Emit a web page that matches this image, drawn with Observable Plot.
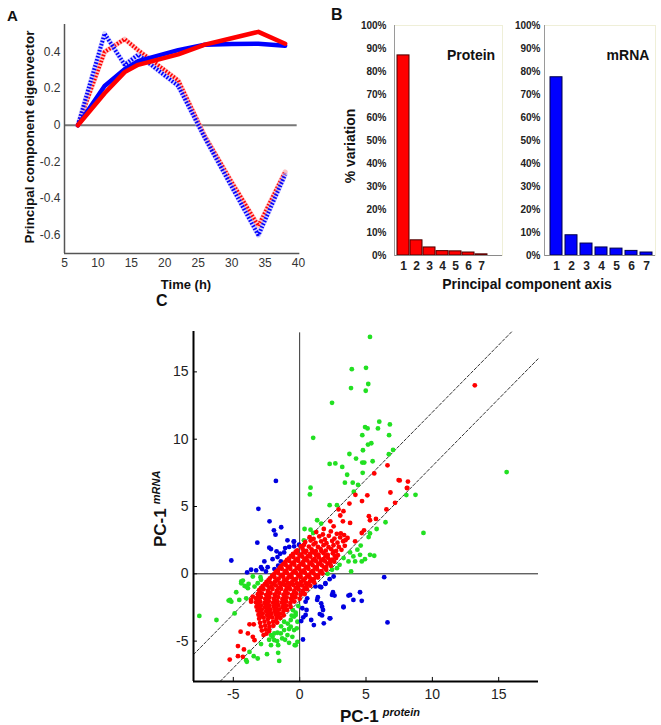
<!DOCTYPE html>
<html><head><meta charset="utf-8">
<script src="https://cdn.jsdelivr.net/npm/d3@7"></script>
<script src="https://cdn.jsdelivr.net/npm/@observablehq/plot@0.6"></script>
<style>
body{margin:0;background:#fff;}
#fig{position:relative;width:661px;height:725px;overflow:hidden;background:#fff;font-family:"Liberation Sans",Arial,sans-serif}
</style></head><body><div id="fig"></div>
<script>
// ---------- Panel A data ----------
const times = [7, 11, 14, 16, 22, 26, 30, 34, 38];
const proteinPC1 = [0, 0.175, 0.29, 0.33, 0.387, 0.44, 0.475, 0.51, 0.445];
const mrnaPC1 = [0, 0.214, 0.306, 0.35, 0.41, 0.44, 0.443, 0.445, 0.434];
const proteinPC2 = [0, 0.40, 0.47, 0.41, 0.245, -0.06, -0.31, -0.55, -0.255];
const mrnaPC2 = [0, 0.50, 0.33, 0.385, 0.215, -0.07, -0.335, -0.60, -0.27];
const timeTicks = [5, 10, 15, 20, 25, 30, 35, 40];
const eigTicks = [-0.6, -0.4, -0.2, 0, 0.2, 0.4];

// ---------- Panel B data ----------
const pcAxes = ["1", "2", "3", "4", "5", "6", "7"];
const proteinVar = [87, 6.6, 3.5, 1.9, 1.8, 1.3, 0.5];
const mrnaVar = [77.5, 8.8, 5.2, 3.5, 3.0, 2.0, 1.3];
const pctTicks = [0, 10, 20, 30, 40, 50, 60, 70, 80, 90, 100];

// ---------- Panel C data ----------
const pcTicks = [-5, 0, 5, 10, 15];
const upperBand = [[-8, -6], [16, 18]];
const lowerBand = [[-6, -8], [18, 16]];
const greenPts = [
[5.3,17.6],[3.93,15.2],[5.0,15.3],[3.87,13.8],[5.17,14.1],[4.98,13.6],[2.44,12.7],[6.0,11.3],[6.8,11.1],[4.93,10.9],[5.12,10.8],[5.9,10.8],[4.72,10.3],[6.74,10.3],[1.02,10.1],[5.4,9.7],[5.15,9.6],[4.77,9.18],[7.04,9.2],[6.72,8.88],[3.75,8.9],[4.25,8.56],[5.5,8.36],[4.72,8.26],[4.87,8.26],[2.26,8.16],[2.69,8.2],[3.21,7.94],[3.58,7.36],[4.75,7.5],[3.41,6.77],[4.0,6.77],[4.4,6.6],[0.82,6.4],[0.77,5.9],[4.08,6.1],[8.04,5.85],[8.73,5.87],[15.6,7.56],[9.33,3.04],
[2.26,5.1],[2.81,5.1],[1.32,3.98],[1.62,3.73],[0.37,3.33],[0.82,3.28],[1.02,3.03],[0.32,2.49],
[6.47,3.83],[5.8,3.33],[5.3,3.0],[5.2,2.73],[4.6,2.1],[4.35,1.79],[3.8,1.59],[4.05,1.29],[4.55,1.41],[4.92,1.09],[5.3,1.41],[5.62,1.34],[4.68,0.92],[4.18,0.92],[3.68,0.92],[3.31,1.17],[3.01,0.67],[2.81,0.42],[3.88,0.17],[2.44,0.3],[2.11,0.0],
[-7.56,-3.13],[-6.27,-3.43],[-5.35,-1.99],[-5.15,-2.07],[-4.78,-1.37],[-4.9,-2.94],[-4.4,-0.7],[-4.15,-0.9],[-4.03,-1.82],[-3.85,-0.75],[-3.4,-0.95],[-3.16,-0.7],[-4.4,-0.57],[-4.03,-0.95],[-3.53,-0.2],[-2.91,-0.45],[-2.95,-0.25],[-4.28,-0.5],[-3.9,-1.07],[-4.55,-1.94],[-5.25,-1.94],
[-3.78,-5.8],[-3.46,-6.12],[-3.16,-6.29],[-4.03,-6.42],[-3.98,-6.54],[-2.91,-5.22],[-2.46,-5.97],[-1.62,-5.87],[-1.54,-6.47],[-1.62,-5.3],[-2.16,-5.3],[-1.91,-4.93],[-2.04,-4.68],[-1.32,-4.8],[-0.92,-4.55],[-0.8,-5.13],[-0.3,-5.3],[-0.17,-5.05],[-0.55,-4.68],[-0.67,-3.93],[-0.42,-4.18],[-1.17,-4.18],[-1.42,-4.43],[-1.67,-4.38],[-1.91,-4.43],[-2.16,-4.55],[-0.67,-3.43],[-0.42,-3.18],[-0.3,-2.89],[-0.17,-3.56],[-1.17,-3.56],[-0.3,-3.06],[-0.22,-4.05],[-0.37,-5.3],
[-0.9,-3.7],[-1.4,-3.9],[-0.8,-4.1],[-1.1,-4.9],[-0.5,-2.7],[-0.1,-2.4],[-1.7,-5.0],[-2.3,-4.9],[-0.6,-3.1]
];
const bluePts = [
[-1.79,6.9],[-3.11,4.83],[-2.27,3.9],[-1.94,3.23],[-1.39,3.46],[-1.82,2.91],[-3.19,2.31],[-0.92,2.49],[-0.45,2.39],[-2.29,1.94],[-2.16,1.84],[-1.74,1.67],[-1.09,1.91],[-0.79,2.0],[-0.42,2.4],[-0.42,2.04],[-0.05,2.16],
[-1.47,1.49],[-1.17,1.59],[-1.67,1.24],[-2.04,1.09],[-1.42,0.92],[-2.66,0.92],[-1.62,0.6],[-2.91,0.49],[-2.41,0.49],[-3.66,0.3],[-3.28,0.25],[-2.83,0.35],[-3.96,0.1],[-5.15,0.99],[-2.54,0.17],[-1.9,0.35],
[6.62,-3.61],[6.37,-0.25],[2.56,-0.2],[2.26,-0.4],[1.94,-0.7],[1.19,-0.94],[1.62,-1.0],[1.94,-0.75],[1.52,-0.95],[2.51,-1.37],[2.63,-1.62],[3.68,-1.62],[4.55,-1.37],[4.05,-1.94],[4.68,-2.01],[3.31,-2.49],[1.62,-2.19],[1.69,-2.44],[1.76,-2.69],[1.37,-1.74],[1.32,-1.94],[0.57,-1.82],[0.45,-2.07],[0.2,-2.56],[0.52,-2.69],[0.45,-3.06],[0.27,-3.23],[0.12,-3.51],[0.87,-3.43],[1.07,-3.81],[1.52,-2.99],[1.69,-3.09],[2.26,-3.31],[1.82,-3.68],[0.25,-4.88],[3.8,-1.57],[2.44,-1.57],[2.31,-3.31],[3.3,-2.44]
];
const redPts = [
[13.2,14.0],[6.62,8.06],[5.62,7.46],[7.46,6.96],[8.16,6.85],[8.08,6.37],[6.84,6.04],[4.2,5.87],[5.1,5.83],[7.54,6.94],[8.11,6.39],[4.7,5.4],[3.75,5.22],[7.19,5.27],[6.54,4.78],[5.22,4.28],[5.3,3.98],[5.75,4.08],[4.68,3.03],[4.85,3.23],[3.8,3.78],[3.06,4.33],[2.93,4.78],[2.31,3.9],[3.26,3.9],[2.56,3.53],[1.82,3.33],[3.1,3.0],[3.61,2.66],[4.18,2.41],[3.3,4.65],
[-5.27,-6.37],[-4.65,-6.12],[-4.28,-6.17],[-4.65,-5.37],[-4.2,-5.62],[-4.45,-4.3],[-3.9,-4.43],[-3.53,-4.68],[-3.4,-4.93],[-3.78,-3.75],[-3.46,-3.75],[-3.66,-2.07],[-3.53,-1.69],[-3.28,-1.82],[-3.16,-2.39],[-3.66,-1.94],
[1.25,3.1],[1.75,2.92],[2.35,3.15],[2.8,2.97],[3.35,2.88],
[0.75,2.72],[1.05,2.6],[1.48,2.78],[1.9,2.55],[2.2,2.82],[2.62,2.62],[3.05,2.7],[3.45,2.5],
[0.42,2.36],[0.83,2.47],[1.2,2.3],[1.62,2.41],[2.02,2.27],[2.45,2.44],[2.85,2.31],[3.28,2.42],
[0.1,2.05],[0.33,2.15],[0.7,2.02],[1.05,2.18],[1.38,2.0],[1.8,2.13],[2.18,1.98],[2.55,2.12],[2.95,2.0],[3.4,2.08],
[-0.18,1.74],[0.22,1.86],[0.5,1.7],[0.9,1.82],[1.22,1.68],[1.58,1.85],[1.97,1.72],[2.38,1.83],[2.75,1.7],[3.15,1.78],
[-0.5,1.48],[-0.22,1.56],[0.12,1.44],[0.42,1.58],[0.78,1.47],[1.08,1.57],[1.42,1.42],[1.8,1.53],[2.12,1.4],[2.5,1.52],[2.88,1.38],
[-0.8,1.15],[-0.48,1.25],[-0.15,1.12],[0.2,1.27],[0.48,1.15],[0.8,1.28],[1.12,1.1],[1.45,1.22],[1.78,1.08],[2.12,1.2],[2.45,1.06],[2.75,1.17],
[-1.08,0.88],[-0.78,0.96],[-0.45,0.85],[-0.12,0.97],[0.25,0.86],[0.58,0.98],[0.88,0.84],[1.22,0.95],[1.55,0.82],[1.92,0.93],[2.28,0.8],[2.6,0.9],
[-1.38,0.58],[-1.05,0.66],[-0.72,0.55],[-0.4,0.68],[-0.05,0.57],[0.3,0.66],[0.62,0.53],[0.98,0.64],[1.3,0.52],[1.68,0.63],[2.0,0.5],[2.35,0.6],
[-1.65,0.26],[-1.35,0.37],[-1.02,0.24],[-0.7,0.36],[-0.38,0.22],[-0.02,0.34],[0.32,0.25],[0.66,0.37],[1.0,0.22],[1.32,0.33],[1.65,0.2],[2.0,0.3],
[-1.95,-0.04],[-1.62,0.06],[-1.28,-0.06],[-0.95,0.05],[-0.62,-0.05],[-0.28,0.07],[0.05,-0.03],[0.4,0.08],[0.72,-0.06],[1.05,0.04],[1.4,-0.08],[1.72,0.02],
[-2.25,-0.34],[-1.9,-0.24],[-1.58,-0.36],[-1.25,-0.22],[-0.92,-0.35],[-0.6,-0.25],[-0.25,-0.37],[0.08,-0.23],[0.42,-0.35],[0.75,-0.26],[1.08,-0.38],[1.38,-0.28],
[-2.5,-0.6],[-2.2,-0.66],[-1.85,-0.56],[-1.52,-0.68],[-1.2,-0.55],[-0.88,-0.67],[-0.55,-0.57],[-0.22,-0.7],[0.12,-0.58],[0.45,-0.69],[0.78,-0.56],[1.1,-0.66],
[-2.8,-0.92],[-2.45,-0.85],[-2.12,-0.96],[-1.8,-0.86],[-1.45,-0.97],[-1.12,-0.84],[-0.8,-0.95],[-0.48,-0.83],[-0.15,-0.96],[0.18,-0.86],[0.5,-0.97],[0.8,-0.88],
[-3.05,-1.22],[-2.72,-1.14],[-2.38,-1.26],[-2.05,-1.13],[-1.72,-1.25],[-1.4,-1.12],[-1.05,-1.24],[-0.72,-1.14],[-0.4,-1.27],[-0.08,-1.15],[0.25,-1.25],[0.55,-1.14],
[-3.15,-1.52],[-2.85,-1.45],[-2.52,-1.56],[-2.2,-1.44],[-1.88,-1.55],[-1.55,-1.42],[-1.22,-1.54],[-0.9,-1.45],[-0.58,-1.57],[-0.25,-1.46],[0.08,-1.56],[0.38,-1.5],
[-3.25,-1.84],[-2.92,-1.75],[-2.6,-1.86],[-2.28,-1.74],[-1.95,-1.85],[-1.62,-1.73],[-1.3,-1.87],[-0.98,-1.76],[-0.65,-1.85],[-0.32,-1.74],[0.0,-1.86],
[-3.3,-2.12],[-2.98,-2.05],[-2.65,-2.16],[-2.32,-2.04],[-2.0,-2.15],[-1.68,-2.03],[-1.35,-2.14],[-1.02,-2.05],[-0.7,-2.17],[-0.4,-2.06],
[-3.25,-2.44],[-2.92,-2.35],[-2.6,-2.46],[-2.28,-2.34],[-1.95,-2.45],[-1.62,-2.33],[-1.3,-2.47],[-0.98,-2.36],[-0.68,-2.46],
[-3.18,-2.72],[-2.85,-2.64],[-2.52,-2.76],[-2.2,-2.65],[-1.88,-2.76],[-1.55,-2.64],[-1.22,-2.77],[-0.95,-2.68],
[-3.1,-3.04],[-2.78,-2.95],[-2.45,-3.06],[-2.12,-2.94],[-1.8,-3.05],[-1.48,-2.96],[-1.2,-3.08],
[-3.05,-3.33],[-2.72,-3.25],[-2.4,-3.36],[-2.08,-3.24],[-1.75,-3.35],[-1.45,-3.28],
[-2.98,-3.64],[-2.65,-3.55],[-2.32,-3.66],[-2.0,-3.56],[-1.7,-3.62],
[-2.92,-3.93],[-2.6,-3.85],[-2.28,-3.95],[-1.98,-3.86],
[-2.85,-4.22],[-2.55,-4.14],[-2.3,-4.25],
[-2.72,-4.55],[-2.5,-4.45],
[-0.3,1.64],[0.3,1.66],[0.95,1.63],[1.65,1.68],[2.55,1.62],
[-0.65,1.33],[0.0,1.36],[0.62,1.32],[1.25,1.37],[1.95,1.3],[2.65,1.33],
[-0.95,1.03],[-0.3,1.05],[0.35,1.02],[1.0,1.04],[1.62,1.0],[2.3,1.02],
[-1.22,0.74],[-0.58,0.78],[0.08,0.73],[0.75,0.76],[1.4,0.72],[2.1,0.75],
[-1.5,0.45],[-0.88,0.48],[-0.22,0.43],[0.48,0.47],[1.15,0.44],[1.85,0.46],
[-1.8,0.15],[-1.12,0.17],[-0.48,0.13],[0.2,0.16],[0.88,0.14],[1.55,0.15],
[-2.08,-0.15],[-1.42,-0.13],[-0.78,-0.17],[-0.1,-0.14],[0.58,-0.16],[1.22,-0.12],
[-2.35,-0.47],[-1.7,-0.44],[-1.05,-0.46],[-0.4,-0.43],[0.28,-0.47],[0.95,-0.45],
[-2.62,-0.76],[-1.98,-0.73],[-1.35,-0.77],[-0.68,-0.74],[-0.02,-0.76],[0.65,-0.74],
[-2.92,-1.06],[-2.28,-1.03],[-1.6,-1.07],[-0.95,-1.04],[-0.3,-1.06],[0.38,-1.05],
[-3.0,-1.36],[-2.38,-1.33],[-1.72,-1.37],[-1.08,-1.34],[-0.42,-1.36],[0.2,-1.35],
[-3.08,-1.66],[-2.45,-1.63],[-1.8,-1.67],[-1.15,-1.64],[-0.5,-1.66],
[-3.15,-1.96],[-2.5,-1.93],[-1.85,-1.97],[-1.2,-1.94],[-0.55,-1.96],
[-3.12,-2.26],[-2.48,-2.23],[-1.82,-2.27],[-1.18,-2.24],
[-3.05,-2.56],[-2.4,-2.53],[-1.78,-2.57],[-1.12,-2.54],
[-2.98,-2.86],[-2.32,-2.83],[-1.68,-2.87],
[-2.9,-3.16],[-2.25,-3.13],[-1.62,-3.17]
];

// ---------- helpers ----------
const FONT = '"Liberation Sans", Arial, sans-serif';
const fig = document.getElementById('fig');
function place(svg, left, top) {
  svg.style.position = 'absolute';
  svg.style.left = left + 'px';
  svg.style.top = top + 'px';
  svg.style.background = 'transparent';
  svg.style.overflow = 'visible';
  fig.appendChild(svg);
}
const series = (vals, name) => times.map((t, i) => ({t, v: vals[i], name}));
const fmtA = d => d === 0 ? "0" : d.toFixed(1);

// ---------- Panel A ----------
const dotted = {x: "t", y: "v", strokeWidth: 4, strokeDasharray: "1.6,1.6", strokeLinecap: "butt", strokeLinejoin: "miter"};
const plotA = Plot.plot({
  width: 310, height: 300,
  marginLeft: 64, marginRight: 12, marginTop: 24, marginBottom: 47,
  x: {domain: [5, 40]},
  y: {domain: [-0.7, 0.55]},
  style: {fontFamily: FONT, fontSize: "12px", color: "#333"},
  marks: [
    Plot.axisX({ticks: timeTicks, tickSize: 0, tickPadding: 5, label: null, tickFormat: d => String(d)}),
    Plot.axisY({ticks: eigTicks, tickSize: 0, tickPadding: 4, label: null, tickFormat: fmtA}),
    Plot.ruleY([0], {x1: 5, x2: 39.8, stroke: "#777", strokeWidth: 2}),
    Plot.ruleX([5], {stroke: "#555", strokeWidth: 1.5}),
    Plot.ruleY([-0.7], {x1: 5, x2: 40.2, stroke: "#555", strokeWidth: 1.5}),
    Plot.line(series(proteinPC2, "p2"), {x: "t", y: "v", stroke: "#ffb4b4", strokeWidth: 5, strokeOpacity: 0.8}),
    Plot.line(series(proteinPC2, "p2"), {...dotted, stroke: "#ff0000"}),
    Plot.line(series(mrnaPC2, "m2"), {x: "t", y: "v", stroke: "#b4b4ff", strokeWidth: 5, strokeOpacity: 0.6}),
    Plot.line(series(mrnaPC2, "m2"), {...dotted, stroke: "#0000ff"}),
    Plot.line(series(mrnaPC1, "m1"), {x: "t", y: "v", stroke: "#0000ff", strokeWidth: 4.5}),
    Plot.line(series(proteinPC1, "p1"), {x: "t", y: "v", stroke: "#ff0000", strokeWidth: 4.5})
  ]
});
place(plotA, 0, 0);

// ---------- Panel B ----------
function barPlot(vals, fill, stroke, left, width, marginLeft, marginRight, padIn, padOut, align, tickPad) {
  const rows = pcAxes.map((k, i) => ({k, v: vals[i]}));
  const p = Plot.plot({
    width, height: 300,
    marginLeft, marginRight, marginTop: 25, marginBottom: 45,
    x: {domain: pcAxes, paddingInner: padIn, paddingOuter: padOut, align},
    y: {domain: [0, 100]},
    style: {fontFamily: FONT, fontSize: "10px", color: "#222"},
    marks: [
      Plot.frame({stroke: "#efefd8", strokeWidth: 1}),
      Plot.axisY({ticks: pctTicks, tickSize: 0, tickPadding: tickPad, label: null, fontWeight: "bold", tickFormat: d => d + "%"}),
      Plot.axisX({tickSize: 0, tickPadding: 6, label: null, fontWeight: "bold", fontSize: 12}),
      Plot.barY(rows, {x: "k", y: "v", fill, stroke, strokeWidth: 1}),
      Plot.ruleY([0], {stroke: "#8a8a8a", strokeWidth: 1}),
      Plot.frame({anchor: "left", stroke: "#9a9a9a", strokeWidth: 1})
    ]
  });
  place(p, left, 0);
}
barPlot(proteinVar, "#ff0000", "#4a0000", 330, 180, 64, 8, 0.07, 0.45, 0.16, 8);
barPlot(mrnaVar, "#0000ff", "#00004a", 502, 159, 42, 6, 0.22, 0.1, 0.6, 4);

// ---------- Panel C ----------
const plotC = Plot.plot({
  width: 400, height: 415,
  marginLeft: 43, marginRight: 12, marginTop: 21, marginBottom: 44,
  x: {domain: [-8, 18]},
  y: {domain: [-8, 18]},
  style: {fontFamily: FONT, fontSize: "14px", color: "#222"},
  marks: [
    Plot.axisX({ticks: pcTicks, tickSize: 0, tickPadding: 8, label: null, tickFormat: d => String(d)}),
    Plot.axisY({ticks: pcTicks, tickSize: 0, tickPadding: 5, label: null, tickFormat: d => String(d)}),
    Plot.ruleX(pcTicks, {x: d => d, y1: -8, y2: -7.7, stroke: "#000"}),
    Plot.ruleY(pcTicks, {y: d => d, x1: -8, x2: -7.7, stroke: "#000"}),
    Plot.ruleX([0], {y1: -8, y2: 17.9, stroke: "#333", strokeWidth: 1}),
    Plot.ruleY([0], {x1: -8, x2: 18, stroke: "#222", strokeWidth: 1}),
    Plot.line(upperBand, {x: d => d[0], y: d => d[1], stroke: "#333", strokeWidth: 1, strokeDasharray: "3,2"}),
    Plot.line(lowerBand, {x: d => d[0], y: d => d[1], stroke: "#333", strokeWidth: 1, strokeDasharray: "3,2"}),
    Plot.dot(greenPts, {x: d => d[0], y: d => d[1], r: 2.4, fill: "#22e022"}),
    Plot.dot(bluePts, {x: d => d[0], y: d => d[1], r: 2.4, fill: "#0000e0"}),
    Plot.dot(redPts, {x: d => d[0], y: d => d[1], r: 2.4, fill: "#ff0000"}),
    Plot.ruleX([-8], {stroke: "#000", strokeWidth: 2}),
    Plot.ruleY([-8], {stroke: "#000", strokeWidth: 2})
  ]
});
place(plotC, 150, 310);

// ---------- titles and labels ----------
const ov = d3.select(fig).append("svg")
  .attr("width", 661).attr("height", 725)
  .style("position", "absolute").style("left", "0px").style("top", "0px")
  .style("pointer-events", "none")
  .attr("font-family", FONT).attr("font-weight", "bold").attr("fill", "#111");
function label(txt, x, y, size, anchor = "start", rot = 0) {
  return ov.append("text").attr("font-size", size).attr("text-anchor", anchor)
    .attr("transform", `translate(${x},${y}) rotate(${rot})`).text(txt);
}
label("A", 7, 21, 15);
label("Principal component eigenvector", 34, 137, 13.5, "middle", -90);
label("Time (h)", 186, 289, 13, "middle");
label("B", 331, 20, 16);
label("% variation", 355, 146, 14, "middle", -90);
label("Protein", 471, 60, 14, "middle");
label("mRNA", 628, 60, 14, "middle");
label("Principal component axis", 527, 289, 14, "middle");
label("C", 156, 306, 16);
const xl = ov.append("text").attr("transform", "translate(340,722)");
xl.append("tspan").attr("font-size", 17).text("PC-1");
xl.append("tspan").attr("font-size", 11).attr("font-style", "italic").attr("dx", 4).attr("dy", -6).text("protein");
const yl = ov.append("text").attr("transform", "translate(166,547) rotate(-90)");
yl.append("tspan").attr("font-size", 17).text("PC-1");
yl.append("tspan").attr("font-size", 11).attr("font-style", "italic").attr("dx", 4).attr("dy", -6).text("mRNA");
</script></body></html>
